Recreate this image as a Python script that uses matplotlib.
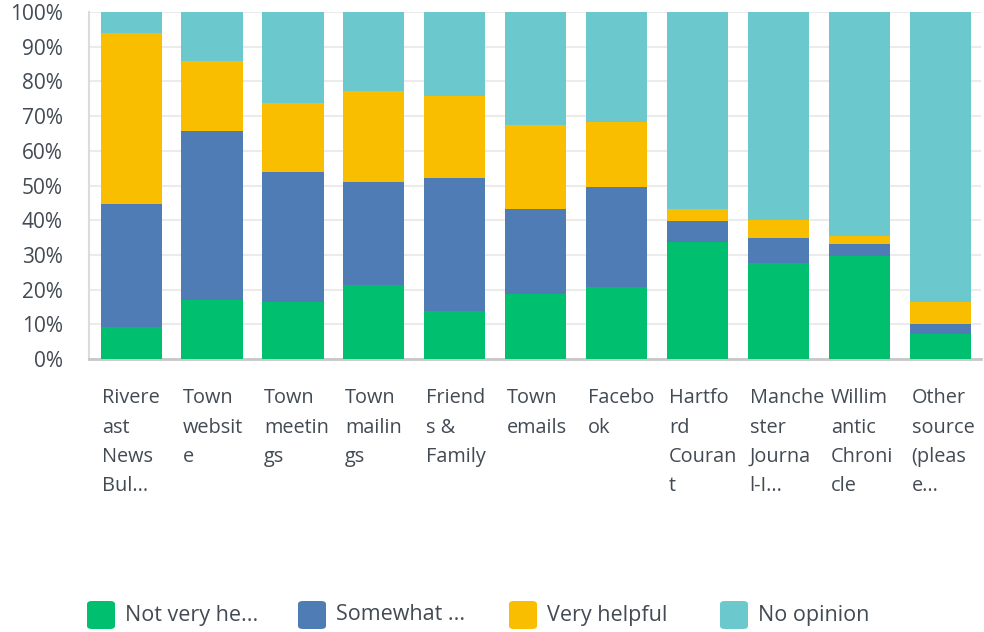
import matplotlib
matplotlib.use("Agg")
import matplotlib.pyplot as plt
from matplotlib.patches import FancyBboxPatch
from matplotlib.transforms import blended_transform_factory
import numpy as np

# categories as they are wrapped / truncated on the chart
categories = [
    "Rivere\nast\nNews\nBul...",
    "Town\nwebsit\ne",
    "Town\nmeetin\ngs",
    "Town\nmailin\ngs",
    "Friend\ns &\nFamily",
    "Town\nemails",
    "Facebo\nok",
    "Hartfo\nrd\nCouran\nt",
    "Manche\nster\nJourna\nl-I...",
    "Willim\nantic\nChroni\ncle",
    "Other\nsource\n(pleas\ne...",
]

# percentages per answer
not_very = [9.2, 17.1, 16.5, 21.3, 13.8, 18.8, 20.8, 33.8, 27.7, 29.8, 7.3]
somewhat = [35.5, 48.6, 37.4, 29.7, 38.4, 24.4, 28.8, 6.1, 7.3, 3.4, 2.9]
very_helpful = [49.3, 20.2, 19.9, 26.2, 23.7, 24.2, 18.8, 3.3, 5.1, 2.3, 6.3]
no_opinion = [6.0, 14.1, 26.2, 22.8, 24.1, 32.6, 31.6, 56.8, 59.9, 64.5, 83.5]

series_names = ["Not very he...", "Somewhat ...", "Very helpful", "No opinion"]
colors = ["#00BF6F", "#507CB6", "#F9BE00", "#6BC8CD"]

text_col = "#424a53"
font = "Open Sans"

fig = plt.figure(figsize=(9.84, 6.32), dpi=100)
ax = fig.add_axes([89 / 984, 1 - 359 / 632, (981 - 89) / 984, 347 / 632])

x = np.arange(len(categories))
bottom = np.zeros(len(categories))
for vals, col in zip([not_very, somewhat, very_helpful, no_opinion], colors):
    ax.bar(x, vals, width=0.755, bottom=bottom, color=col, zorder=3, linewidth=0)
    bottom += np.array(vals)

ax.set_xlim(-0.52, 10.5)
ax.set_ylim(0, 100)
ax.set_yticks(np.arange(0, 101, 10))
ax.set_yticklabels([f"{v}%" for v in range(0, 101, 10)], fontsize=15,
                   color=text_col, fontfamily=font)
ax.tick_params(axis="y", length=0, pad=19)
ax.set_xticks([])
ax.grid(axis="y", color="#ebebeb", linewidth=1.5, zorder=0)

for s in ["top", "right"]:
    ax.spines[s].set_visible(False)
ax.spines["left"].set_color("#dcdcdc")
ax.spines["left"].set_linewidth(1.5)
ax.spines["bottom"].set_color("#c8c8c8")
ax.spines["bottom"].set_linewidth(2)

# wrapped category labels, left aligned under each bar
trans = blended_transform_factory(ax.transData, ax.transAxes)
for i, lab in enumerate(categories):
    ax.text(i - 0.755 / 2 + 0.02, -0.085, lab, transform=trans, ha="left", va="top",
            fontsize=14.3, color=text_col, fontfamily=font, linespacing=1.62)

# legend: rounded squares on a fixed grid
for k, (name, col) in enumerate(zip(series_names, colors)):
    x0 = 87 + k * 211
    fig.patches.append(FancyBboxPatch((x0 / 984, 1 - 629 / 632),
                                      28 / 984, 28 / 632,
                                      boxstyle="round,pad=0,rounding_size=0.005",
                                      transform=fig.transFigure, facecolor=col,
                                      edgecolor="none"))
    fig.text((x0 + 38) / 984, 1 - 615 / 632, name, ha="left", va="center",
             fontsize=15.5, color=text_col, fontfamily=font)

fig.savefig("out.png", dpi=100)
